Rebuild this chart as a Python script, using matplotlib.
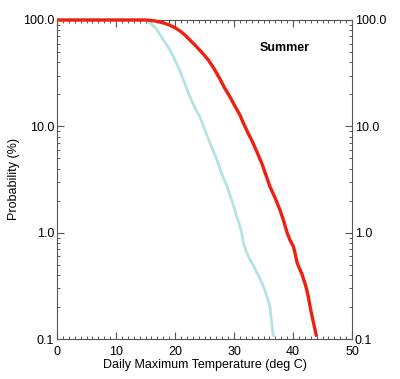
import matplotlib
matplotlib.use("Agg")
import matplotlib.pyplot as plt
from matplotlib.ticker import FixedLocator, MultipleLocator, LogLocator, NullFormatter

plt.rcParams['font.family'] = ['Liberation Sans', 'DejaVu Sans']

# Summer daily maximum temperature exceedance probability (%)
red_temp = [0, 10, 15, 16.0, 17.0, 18.0, 19.0, 20.0, 20.85, 21.7, 22.5, 23.4, 24.2, 25.0, 25.65,
            26.6, 27.6, 28.4, 29.3, 30.1, 31.0, 31.7, 32.4, 33.0, 33.8, 34.7,
            35.4, 36.1, 37.0, 37.8, 38.4, 39.0, 39.5, 40.06, 40.3, 40.7, 41.1,
            41.5, 41.9, 42.2, 42.6, 42.9, 43.5, 44.0]
red_prob = [100, 100, 100, 99, 97, 94, 90, 84.5, 79, 72, 65, 58, 52, 46.5, 42,
            35, 28, 23, 19, 15.7, 12.8, 10.4, 8.6, 7.4, 5.9, 4.5,
            3.5, 2.7, 2.1, 1.63, 1.3, 1.0, 0.85, 0.74, 0.66, 0.52, 0.46,
            0.41, 0.35, 0.31, 0.25, 0.20, 0.14, 0.105]

cyan_temp = [0, 10, 14.5, 15.3, 16.0, 16.8, 17.5, 18.3, 19.15, 20.0, 20.85, 21.8, 22.8, 23.5,
             24.2, 24.9, 25.6, 26.2, 27.0, 27.9, 28.8, 29.6, 30.0, 30.4, 30.9, 31.3,
             31.6, 32.1, 32.7, 33.2, 33.7, 34.2, 34.7, 35.1, 35.5, 36.1, 36.4, 36.7]
cyan_prob = [100, 100, 100, 98, 92, 83, 72, 62, 52, 42, 33, 24, 17.5, 14.5,
             12.3, 9.8, 7.7, 6.45, 5.0, 3.6, 2.75, 2.03, 1.72, 1.45, 1.2, 1.0,
             0.80, 0.66, 0.56, 0.50, 0.44, 0.39, 0.34, 0.30, 0.26, 0.20, 0.14, 0.105]

ytick_vals = [0.1, 1.0, 10.0, 100.0]
ytick_labels = ["0.1", "1.0", "10.0", "100.0"]
xtick_vals = [0, 10, 20, 30, 40, 50]

fig = plt.figure(figsize=(4.0, 3.79), dpi=100)
ax = fig.add_axes([57/400, 1-339/379, 295/400, 319/379])

ax.plot(cyan_temp, cyan_prob, color='#b3e3e3', lw=2.0, solid_capstyle='butt',
        solid_joinstyle='round', clip_on=False, zorder=3)
ax.plot(red_temp, red_prob, color='#ee2010', lw=2.4, solid_capstyle='butt',
        solid_joinstyle='round', clip_on=False, zorder=4)

ax.set_yscale('log')
ax.set_xlim(0, 50)
ax.set_ylim(0.1, 100)

ax.xaxis.set_major_locator(FixedLocator(xtick_vals))
ax.xaxis.set_minor_locator(MultipleLocator(1))
ax.yaxis.set_major_locator(FixedLocator(ytick_vals))
ax.set_yticklabels(ytick_labels)
ax.yaxis.set_minor_locator(LogLocator(base=10, subs=range(2, 10)))
ax.yaxis.set_minor_formatter(NullFormatter())

ax.tick_params(which='both', direction='in', top=True, right=True,
               labelright=True, labelsize=9, color='#555555', pad=2)
ax.tick_params(which='major', length=5, width=0.8)
ax.tick_params(which='minor', length=2.5, width=0.7)
ax.tick_params(axis='x', which='major', pad=5)

for s in ax.spines.values():
    s.set_color('#555555')
    s.set_linewidth(0.8)

ax.set_xlabel('Daily Maximum Temperature (deg C)', fontsize=9, labelpad=1)
ax.set_ylabel('Probability (%)', fontsize=9, labelpad=2)

ax.text(0.773, 0.912, 'Summer', transform=ax.transAxes, ha='center', va='center',
        fontsize=9, fontweight='bold')

fig.savefig('out.png', dpi=100)
